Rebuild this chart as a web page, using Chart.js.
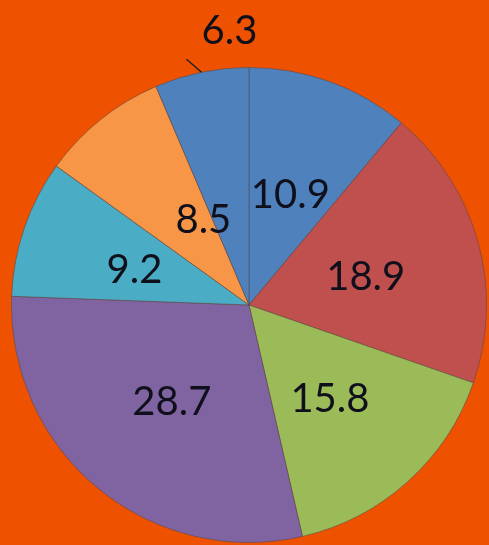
<!DOCTYPE html>
<html>
<head>
<meta charset="utf-8">
<script src="https://cdn.jsdelivr.net/npm/chart.js@4"></script>
<style>
  html, body { margin: 0; padding: 0; background: #EE5100; }
  #wrap { width: 489px; height: 545px; position: relative; }
</style>
</head>
<body>
<div id="wrap"><canvas id="myChart"></canvas></div>
<script>
const categories = ['A', 'B', 'C', 'D', 'E', 'F', 'G'];
const values = [10.9, 18.9, 15.8, 28.7, 9.2, 8.5, 6.3];
const colors = ['#4F81BD', '#C0504D', '#9BBB59', '#8064A2', '#4BACC6', '#F79646', '#4F81BD'];
// slices whose label sits outside with a leader line
const outsideLabels = [6];
// narrow slice label pushed toward the slice's right edge
const labelNudge = { 5: [30, 6] };

const ctx = document.getElementById('myChart').getContext('2d');

const sliceLabels = {
    id: 'sliceLabels',
    afterDatasetsDraw(chart) {
        const c = chart.ctx;
        const arcs = chart.getDatasetMeta(0).data;
        c.save();
        c.font = '40px Lato';
        c.fillStyle = '#10101c';
        c.textAlign = 'center';
        c.textBaseline = 'middle';
        arcs.forEach((arc, i) => {
            const mid = (arc.startAngle + arc.endAngle) / 2;
            const r = arc.outerRadius;
            const text = String(values[i]);
            if (outsideLabels.includes(i)) {
                const ex = arc.x + Math.cos(mid) * r;
                const ey = arc.y + Math.sin(mid) * r;
                c.strokeStyle = '#222';
                c.lineWidth = 1.5;
                c.beginPath();
                c.moveTo(ex, ey);
                c.lineTo(ex - 15, ey - 13);
                c.stroke();
                c.fillText(text, ex + 28, ey - 41);
            } else {
                const lr = r * 0.51;
                const nudge = labelNudge[i] || [0, 0];
                c.fillText(text,
                    arc.x + Math.cos(mid) * lr + nudge[0],
                    arc.y + Math.sin(mid) * lr + 4 + nudge[1]);
            }
        });
        c.restore();
    }
};

new Chart(ctx, {
    type: 'pie',
    data: {
        labels: categories,
        datasets: [{
            data: values,
            backgroundColor: colors,
            borderColor: 'rgba(90, 70, 70, 0.55)',
            borderWidth: 1
        }]
    },
    options: {
        responsive: true,
        maintainAspectRatio: false,
        animation: false,
        layout: { padding: { left: 11, right: 2, top: 67, bottom: 2 } },
        plugins: {
            legend: { display: false },
            tooltip: { enabled: false }
        }
    },
    plugins: [sliceLabels]
});
</script>
</body>
</html>
